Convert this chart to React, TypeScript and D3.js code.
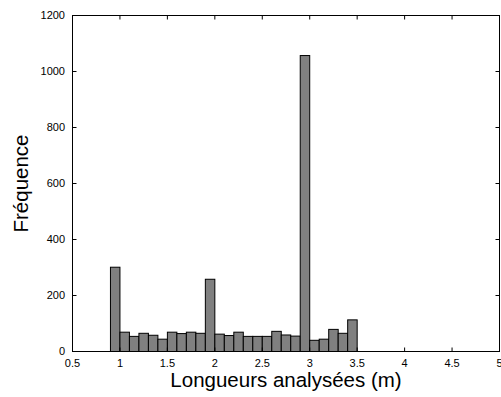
import React from "react";
import * as d3 from "d3";

const binStarts = [0.7, 0.8, 0.9, 1.0, 1.1, 1.2, 1.3, 1.4, 1.5, 1.6, 1.7, 1.8, 1.9, 2.0, 2.1, 2.2, 2.3, 2.4, 2.5, 2.6, 2.7, 2.8, 2.9, 3.0, 3.1, 3.2, 3.3, 3.4, 3.5, 3.6, 3.7, 3.8, 3.9, 4.0, 4.1, 4.2, 4.3, 4.4, 4.5, 4.6, 4.7, 4.8, 4.9];
const counts = [0, 0, 301, 69, 54, 65, 58, 44, 69, 64, 69, 65, 258, 62, 57, 69, 54, 54, 54, 72, 59, 55, 1057, 40, 44, 79, 65, 113, 0, 0, 0, 0, 0, 0, 0, 0, 0, 0, 0, 0, 0, 0, 0];
const binWidth = 0.1;
const xTicks = [0.5, 1, 1.5, 2, 2.5, 3, 3.5, 4, 4.5, 5];
const yTicks = [0, 200, 400, 600, 800, 1000, 1200];
const xLabel = "Longueurs analysées (m)";
const yLabel = "Fréquence";

export default function App() {
  const W = 501, H = 397;
  const L = 72.5, R = 499.5, T = 15.5, B = 351.5;
  const x = d3.scaleLinear().domain([0.5, 5]).range([L, R]);
  const y = d3.scaleLinear().domain([0, 1200]).range([B, T]);
  const font = "'Liberation Sans', Arial, sans-serif";
  const tl = 4;
  return (
    <svg width={W} height={H} style={{ position: "absolute", left: 0, top: 0, background: "#fff" }} fontFamily={font}>
      <rect x={0} y={0} width={W} height={H} fill="#fff" />
      {binStarts.map((s, i) => (
        <rect key={i} x={x(s)} y={y(counts[i])} width={x(s + binWidth) - x(s)} height={y(0) - y(counts[i])}
          fill="#808080" stroke="#000" strokeWidth={1} />
      ))}
      <rect x={L} y={T} width={R - L} height={B - T} fill="none" stroke="#000" strokeWidth={1} />
      {xTicks.map((t) => (
        <g key={"x" + t}>
          <line x1={x(t)} x2={x(t)} y1={B} y2={B - tl} stroke="#000" />
          <line x1={x(t)} x2={x(t)} y1={T} y2={T + tl} stroke="#000" />
          <text x={x(t)} y={367} fontSize={11} textAnchor="middle" fill="#000">{String(t)}</text>
        </g>
      ))}
      {yTicks.map((t) => (
        <g key={"y" + t}>
          <line x1={L} x2={L + tl} y1={y(t)} y2={y(t)} stroke="#000" />
          <line x1={R} x2={R - tl} y1={y(t)} y2={y(t)} stroke="#000" />
          <text x={65} y={y(t)} dy="0.35em" fontSize={11} textAnchor="end" fill="#000">{String(t)}</text>
        </g>
      ))}
      <text x={(L + R) / 2} y={387} fontSize={20.5} textAnchor="middle" fill="#000">{xLabel}</text>
      <text transform={`translate(28,${(T + B) / 2}) rotate(-90)`} fontSize={20.5} textAnchor="middle" fill="#000">{yLabel}</text>
    </svg>
  );
}
